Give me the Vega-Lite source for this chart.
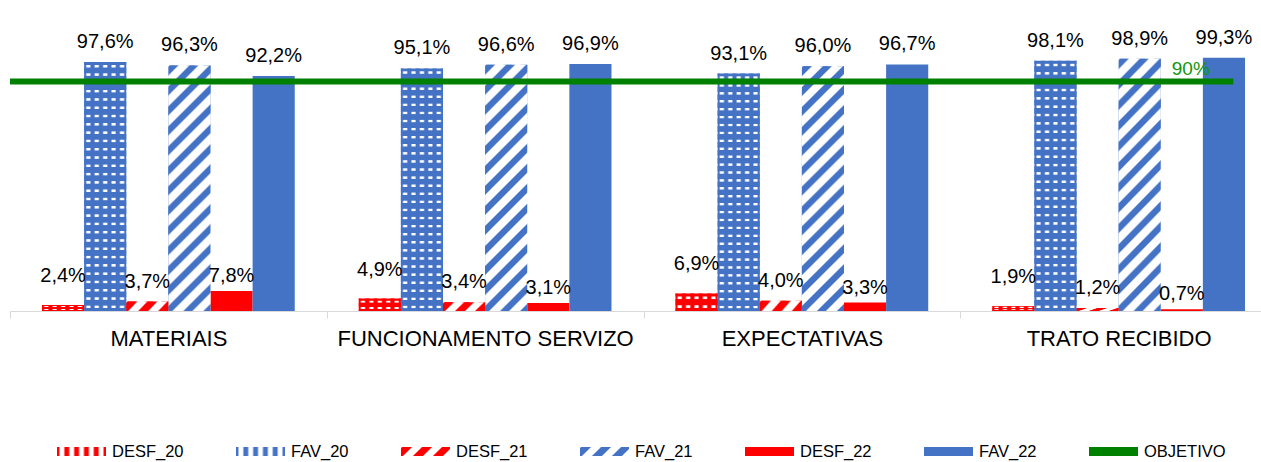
{
"$schema": "https://vega.github.io/schema/vega-lite/v6.json",
"width": 1251, "height": 255,
"autosize": "none",
"padding": {"left": 10, "top": 56, "right": 0, "bottom": 151},
"background": "white",
"config": {
  "view": {"stroke": null},
  "font": "Liberation Sans",
  "locale": {"number": {"decimal": ",", "thousands": ".", "grouping": [3], "currency": ["", " €"]}},
  "axisX": {"title": null, "labelFontSize": 22, "labelColor": "#000000", "domainColor": "#d9d9d9", "tickColor": "#d9d9d9", "tickSize": 7, "tickBand": "extent", "labelPadding": 10, "labelAngle": 0, "labelLimit": 400}
},
"data": {"values": [
{"cat":"MATERIAIS","serie":"DESF_20","v":0.024},
{"cat":"MATERIAIS","serie":"FAV_20","v":0.976},
{"cat":"MATERIAIS","serie":"DESF_21","v":0.037},
{"cat":"MATERIAIS","serie":"FAV_21","v":0.963},
{"cat":"MATERIAIS","serie":"DESF_22","v":0.078},
{"cat":"MATERIAIS","serie":"FAV_22","v":0.922},
{"cat":"FUNCIONAMENTO SERVIZO","serie":"DESF_20","v":0.049},
{"cat":"FUNCIONAMENTO SERVIZO","serie":"FAV_20","v":0.951},
{"cat":"FUNCIONAMENTO SERVIZO","serie":"DESF_21","v":0.034},
{"cat":"FUNCIONAMENTO SERVIZO","serie":"FAV_21","v":0.966},
{"cat":"FUNCIONAMENTO SERVIZO","serie":"DESF_22","v":0.031},
{"cat":"FUNCIONAMENTO SERVIZO","serie":"FAV_22","v":0.969},
{"cat":"EXPECTATIVAS","serie":"DESF_20","v":0.069},
{"cat":"EXPECTATIVAS","serie":"FAV_20","v":0.931},
{"cat":"EXPECTATIVAS","serie":"DESF_21","v":0.040},
{"cat":"EXPECTATIVAS","serie":"FAV_21","v":0.960},
{"cat":"EXPECTATIVAS","serie":"DESF_22","v":0.033},
{"cat":"EXPECTATIVAS","serie":"FAV_22","v":0.967},
{"cat":"TRATO RECIBIDO","serie":"DESF_20","v":0.019},
{"cat":"TRATO RECIBIDO","serie":"FAV_20","v":0.981},
{"cat":"TRATO RECIBIDO","serie":"DESF_21","v":0.012},
{"cat":"TRATO RECIBIDO","serie":"FAV_21","v":0.989},
{"cat":"TRATO RECIBIDO","serie":"DESF_22","v":0.007},
{"cat":"TRATO RECIBIDO","serie":"FAV_22","v":0.993}
]},
"layer": [
{
  "encoding": {
    "x": {"field": "cat", "type": "nominal", "scale": {"domain": ["MATERIAIS","FUNCIONAMENTO SERVIZO","EXPECTATIVAS","TRATO RECIBIDO"], "range": [0, 1267], "paddingInner": 0, "paddingOuter": 0}},
    "xOffset": {"field": "serie", "type": "nominal", "scale": {"domain": ["DESF_20","FAV_20","DESF_21","FAV_21","DESF_22","FAV_22"], "paddingInner": 0, "paddingOuter": 0.76}},
    "y": {"field": "v", "type": "quantitative", "scale": {"domain": [0, 1]}, "axis": null}
  },
  "layer": [
    {
      "mark": {"type": "bar"},
      "encoding": {
        "color": {"field": "serie", "type": "nominal",
          "scale": {
            "domain": ["DESF_20","FAV_20","DESF_21","FAV_21","DESF_22","FAV_22","OBJETIVO"],
            "range": [
              {"expr": "{gradient:'linear',x1:0,y1:0,x2:1,y2:0,stops:[{offset:0.03,color:'#ff0000'},{offset:0.07,color:'#ffffff'},{offset:0.13,color:'#ffffff'},{offset:0.17,color:'#ff0000'},{offset:0.23,color:'#ff0000'},{offset:0.27,color:'#ffffff'},{offset:0.33,color:'#ffffff'},{offset:0.37,color:'#ff0000'},{offset:0.43,color:'#ff0000'},{offset:0.47,color:'#ffffff'},{offset:0.53,color:'#ffffff'},{offset:0.57,color:'#ff0000'},{offset:0.63,color:'#ff0000'},{offset:0.67,color:'#ffffff'},{offset:0.73,color:'#ffffff'},{offset:0.77,color:'#ff0000'},{offset:0.83,color:'#ff0000'},{offset:0.87,color:'#ffffff'},{offset:0.93,color:'#ffffff'},{offset:0.97,color:'#ff0000'}]}"},
              {"expr": "{gradient:'linear',x1:0,y1:0,x2:1,y2:0,stops:[{offset:0.03,color:'#4472c4'},{offset:0.07,color:'#ffffff'},{offset:0.13,color:'#ffffff'},{offset:0.17,color:'#4472c4'},{offset:0.23,color:'#4472c4'},{offset:0.27,color:'#ffffff'},{offset:0.33,color:'#ffffff'},{offset:0.37,color:'#4472c4'},{offset:0.43,color:'#4472c4'},{offset:0.47,color:'#ffffff'},{offset:0.53,color:'#ffffff'},{offset:0.57,color:'#4472c4'},{offset:0.63,color:'#4472c4'},{offset:0.67,color:'#ffffff'},{offset:0.73,color:'#ffffff'},{offset:0.77,color:'#4472c4'},{offset:0.83,color:'#4472c4'},{offset:0.87,color:'#ffffff'},{offset:0.93,color:'#ffffff'},{offset:0.97,color:'#4472c4'}]}"},
              {"expr": "{gradient:'linear',x1:0,y1:0,x2:1.1845,y2:0.2176,stops:[{offset:0,color:'#ffffff'},{offset:0.0333,color:'#ff0000'},{offset:0.1667,color:'#ff0000'},{offset:0.2,color:'#ffffff'},{offset:0.3333,color:'#ffffff'},{offset:0.3667,color:'#ff0000'},{offset:0.5,color:'#ff0000'},{offset:0.5333,color:'#ffffff'},{offset:0.6667,color:'#ffffff'},{offset:0.7,color:'#ff0000'},{offset:0.8333,color:'#ff0000'},{offset:0.8667,color:'#ffffff'}]}"},
              {"expr": "{gradient:'linear',x1:0,y1:0,x2:1.1845,y2:0.2176,stops:[{offset:0,color:'#ffffff'},{offset:0.0333,color:'#4472c4'},{offset:0.1667,color:'#4472c4'},{offset:0.2,color:'#ffffff'},{offset:0.3333,color:'#ffffff'},{offset:0.3667,color:'#4472c4'},{offset:0.5,color:'#4472c4'},{offset:0.5333,color:'#ffffff'},{offset:0.6667,color:'#ffffff'},{offset:0.7,color:'#4472c4'},{offset:0.8333,color:'#4472c4'},{offset:0.8667,color:'#ffffff'}]}"},
              "#ff0000", "#4472c4", "#008000"
            ]
          },
          "legend": {"orient": "none", "legendX": 47, "legendY": 371, "direction": "horizontal", "columns": 7, "title": null,
            "symbolType": "M-1,-0.18L1,-0.18L1,0.18L-1,0.18Z", "symbolSize": 2401, "symbolStrokeWidth": 0, "symbolOpacity": 1,
            "labelFontSize": 16.5, "labelOffset": 6, "columnPadding": 52, "padding": 0, "labelColor": "#000000"}
        }
      }
    },
    {
      "transform": [{"filter": "datum.serie == 'FAV_21'"}],
      "mark": {"type": "bar", "fill": {"gradient":"linear","x1":0,"y1":0,"x2":0.2028,"y2":1.1848,"stops":[
        {"offset":0,"color":"#ffffff"},{"offset":0.0067,"color":"#4472c4"},{"offset":0.03,"color":"#4472c4"},{"offset":0.0367,"color":"#ffffff"},
        {"offset":0.0667,"color":"#ffffff"},{"offset":0.0733,"color":"#4472c4"},{"offset":0.0967,"color":"#4472c4"},{"offset":0.1033,"color":"#ffffff"},
        {"offset":0.1333,"color":"#ffffff"},{"offset":0.14,"color":"#4472c4"},{"offset":0.1633,"color":"#4472c4"},{"offset":0.17,"color":"#ffffff"},
        {"offset":0.2,"color":"#ffffff"},{"offset":0.2067,"color":"#4472c4"},{"offset":0.23,"color":"#4472c4"},{"offset":0.2367,"color":"#ffffff"},
        {"offset":0.2667,"color":"#ffffff"},{"offset":0.2733,"color":"#4472c4"},{"offset":0.2967,"color":"#4472c4"},{"offset":0.3033,"color":"#ffffff"},
        {"offset":0.3333,"color":"#ffffff"},{"offset":0.34,"color":"#4472c4"},{"offset":0.3633,"color":"#4472c4"},{"offset":0.37,"color":"#ffffff"},
        {"offset":0.4,"color":"#ffffff"},{"offset":0.4067,"color":"#4472c4"},{"offset":0.43,"color":"#4472c4"},{"offset":0.4367,"color":"#ffffff"},
        {"offset":0.4667,"color":"#ffffff"},{"offset":0.4733,"color":"#4472c4"},{"offset":0.4967,"color":"#4472c4"},{"offset":0.5033,"color":"#ffffff"},
        {"offset":0.5333,"color":"#ffffff"},{"offset":0.54,"color":"#4472c4"},{"offset":0.5633,"color":"#4472c4"},{"offset":0.57,"color":"#ffffff"},
        {"offset":0.6,"color":"#ffffff"},{"offset":0.6067,"color":"#4472c4"},{"offset":0.63,"color":"#4472c4"},{"offset":0.6367,"color":"#ffffff"},
        {"offset":0.6667,"color":"#ffffff"},{"offset":0.6733,"color":"#4472c4"},{"offset":0.6967,"color":"#4472c4"},{"offset":0.7033,"color":"#ffffff"},
        {"offset":0.7333,"color":"#ffffff"},{"offset":0.74,"color":"#4472c4"},{"offset":0.7633,"color":"#4472c4"},{"offset":0.77,"color":"#ffffff"},
        {"offset":0.8,"color":"#ffffff"},{"offset":0.8067,"color":"#4472c4"},{"offset":0.83,"color":"#4472c4"},{"offset":0.8367,"color":"#ffffff"},
        {"offset":0.8667,"color":"#ffffff"},{"offset":0.8733,"color":"#4472c4"},{"offset":0.8967,"color":"#4472c4"},{"offset":0.9033,"color":"#ffffff"},
        {"offset":0.9333,"color":"#ffffff"},{"offset":0.94,"color":"#4472c4"},{"offset":0.9633,"color":"#4472c4"},{"offset":0.97,"color":"#ffffff"}]}}
    },
    {
      "transform": [{"filter": "datum.serie == 'DESF_21'"}],
      "mark": {"type": "bar", "fill": {"gradient":"linear","x1":0,"y1":0,"x2":1.363,"y2":0.2914,"stops":[
        {"offset":0,"color":"#ffffff"},{"offset":0.0333,"color":"#ff0000"},{"offset":0.1667,"color":"#ff0000"},{"offset":0.2,"color":"#ffffff"},
        {"offset":0.3333,"color":"#ffffff"},{"offset":0.3667,"color":"#ff0000"},{"offset":0.5,"color":"#ff0000"},{"offset":0.5333,"color":"#ffffff"},
        {"offset":0.6667,"color":"#ffffff"},{"offset":0.7,"color":"#ff0000"},{"offset":0.8333,"color":"#ff0000"},{"offset":0.8667,"color":"#ffffff"}]}}
    },
    {
      "transform": [{"filter": "datum.serie == 'FAV_20'"}],
      "mark": {"type": "bar", "fill": {"gradient":"linear","x1":0,"y1":0,"x2":0,"y2":1,"stops":[
        {"offset":0.01,"color":"#4472c4"},{"offset":0.0133,"color":"rgba(68,114,196,0)"},{"offset":0.02,"color":"rgba(68,114,196,0)"},{"offset":0.0233,"color":"#4472c4"},
        {"offset":0.0433,"color":"#4472c4"},{"offset":0.0467,"color":"rgba(68,114,196,0)"},{"offset":0.0533,"color":"rgba(68,114,196,0)"},{"offset":0.0567,"color":"#4472c4"},
        {"offset":0.0767,"color":"#4472c4"},{"offset":0.08,"color":"rgba(68,114,196,0)"},{"offset":0.0867,"color":"rgba(68,114,196,0)"},{"offset":0.09,"color":"#4472c4"},
        {"offset":0.11,"color":"#4472c4"},{"offset":0.1133,"color":"rgba(68,114,196,0)"},{"offset":0.12,"color":"rgba(68,114,196,0)"},{"offset":0.1233,"color":"#4472c4"},
        {"offset":0.1433,"color":"#4472c4"},{"offset":0.1467,"color":"rgba(68,114,196,0)"},{"offset":0.1533,"color":"rgba(68,114,196,0)"},{"offset":0.1567,"color":"#4472c4"},
        {"offset":0.1767,"color":"#4472c4"},{"offset":0.18,"color":"rgba(68,114,196,0)"},{"offset":0.1867,"color":"rgba(68,114,196,0)"},{"offset":0.19,"color":"#4472c4"},
        {"offset":0.21,"color":"#4472c4"},{"offset":0.2133,"color":"rgba(68,114,196,0)"},{"offset":0.22,"color":"rgba(68,114,196,0)"},{"offset":0.2233,"color":"#4472c4"},
        {"offset":0.2433,"color":"#4472c4"},{"offset":0.2467,"color":"rgba(68,114,196,0)"},{"offset":0.2533,"color":"rgba(68,114,196,0)"},{"offset":0.2567,"color":"#4472c4"},
        {"offset":0.2767,"color":"#4472c4"},{"offset":0.28,"color":"rgba(68,114,196,0)"},{"offset":0.2867,"color":"rgba(68,114,196,0)"},{"offset":0.29,"color":"#4472c4"},
        {"offset":0.31,"color":"#4472c4"},{"offset":0.3133,"color":"rgba(68,114,196,0)"},{"offset":0.32,"color":"rgba(68,114,196,0)"},{"offset":0.3233,"color":"#4472c4"},
        {"offset":0.3433,"color":"#4472c4"},{"offset":0.3467,"color":"rgba(68,114,196,0)"},{"offset":0.3533,"color":"rgba(68,114,196,0)"},{"offset":0.3567,"color":"#4472c4"},
        {"offset":0.3767,"color":"#4472c4"},{"offset":0.38,"color":"rgba(68,114,196,0)"},{"offset":0.3867,"color":"rgba(68,114,196,0)"},{"offset":0.39,"color":"#4472c4"},
        {"offset":0.41,"color":"#4472c4"},{"offset":0.4133,"color":"rgba(68,114,196,0)"},{"offset":0.42,"color":"rgba(68,114,196,0)"},{"offset":0.4233,"color":"#4472c4"},
        {"offset":0.4433,"color":"#4472c4"},{"offset":0.4467,"color":"rgba(68,114,196,0)"},{"offset":0.4533,"color":"rgba(68,114,196,0)"},{"offset":0.4567,"color":"#4472c4"},
        {"offset":0.4767,"color":"#4472c4"},{"offset":0.48,"color":"rgba(68,114,196,0)"},{"offset":0.4867,"color":"rgba(68,114,196,0)"},{"offset":0.49,"color":"#4472c4"},
        {"offset":0.51,"color":"#4472c4"},{"offset":0.5133,"color":"rgba(68,114,196,0)"},{"offset":0.52,"color":"rgba(68,114,196,0)"},{"offset":0.5233,"color":"#4472c4"},
        {"offset":0.5433,"color":"#4472c4"},{"offset":0.5467,"color":"rgba(68,114,196,0)"},{"offset":0.5533,"color":"rgba(68,114,196,0)"},{"offset":0.5567,"color":"#4472c4"},
        {"offset":0.5767,"color":"#4472c4"},{"offset":0.58,"color":"rgba(68,114,196,0)"},{"offset":0.5867,"color":"rgba(68,114,196,0)"},{"offset":0.59,"color":"#4472c4"},
        {"offset":0.61,"color":"#4472c4"},{"offset":0.6133,"color":"rgba(68,114,196,0)"},{"offset":0.62,"color":"rgba(68,114,196,0)"},{"offset":0.6233,"color":"#4472c4"},
        {"offset":0.6433,"color":"#4472c4"},{"offset":0.6467,"color":"rgba(68,114,196,0)"},{"offset":0.6533,"color":"rgba(68,114,196,0)"},{"offset":0.6567,"color":"#4472c4"},
        {"offset":0.6767,"color":"#4472c4"},{"offset":0.68,"color":"rgba(68,114,196,0)"},{"offset":0.6867,"color":"rgba(68,114,196,0)"},{"offset":0.69,"color":"#4472c4"},
        {"offset":0.71,"color":"#4472c4"},{"offset":0.7133,"color":"rgba(68,114,196,0)"},{"offset":0.72,"color":"rgba(68,114,196,0)"},{"offset":0.7233,"color":"#4472c4"},
        {"offset":0.7433,"color":"#4472c4"},{"offset":0.7467,"color":"rgba(68,114,196,0)"},{"offset":0.7533,"color":"rgba(68,114,196,0)"},{"offset":0.7567,"color":"#4472c4"},
        {"offset":0.7767,"color":"#4472c4"},{"offset":0.78,"color":"rgba(68,114,196,0)"},{"offset":0.7867,"color":"rgba(68,114,196,0)"},{"offset":0.79,"color":"#4472c4"},
        {"offset":0.81,"color":"#4472c4"},{"offset":0.8133,"color":"rgba(68,114,196,0)"},{"offset":0.82,"color":"rgba(68,114,196,0)"},{"offset":0.8233,"color":"#4472c4"},
        {"offset":0.8433,"color":"#4472c4"},{"offset":0.8467,"color":"rgba(68,114,196,0)"},{"offset":0.8533,"color":"rgba(68,114,196,0)"},{"offset":0.8567,"color":"#4472c4"},
        {"offset":0.8767,"color":"#4472c4"},{"offset":0.88,"color":"rgba(68,114,196,0)"},{"offset":0.8867,"color":"rgba(68,114,196,0)"},{"offset":0.89,"color":"#4472c4"},
        {"offset":0.91,"color":"#4472c4"},{"offset":0.9133,"color":"rgba(68,114,196,0)"},{"offset":0.92,"color":"rgba(68,114,196,0)"},{"offset":0.9233,"color":"#4472c4"},
        {"offset":0.9433,"color":"#4472c4"},{"offset":0.9467,"color":"rgba(68,114,196,0)"},{"offset":0.9533,"color":"rgba(68,114,196,0)"},{"offset":0.9567,"color":"#4472c4"},
        {"offset":0.9767,"color":"#4472c4"},{"offset":0.98,"color":"rgba(68,114,196,0)"},{"offset":0.9867,"color":"rgba(68,114,196,0)"},{"offset":0.99,"color":"#4472c4"}]}}
    },
    {
      "transform": [{"filter": "datum.serie == 'DESF_20'"}],
      "mark": {"type": "bar", "fill": {"gradient":"linear","x1":0,"y1":0,"x2":0,"y2":1,"stops":[
        {"offset":0.15,"color":"#ff0000"},{"offset":0.2,"color":"rgba(255,0,0,0)"},{"offset":0.3,"color":"rgba(255,0,0,0)"},{"offset":0.35,"color":"#ff0000"},
        {"offset":0.65,"color":"#ff0000"},{"offset":0.7,"color":"rgba(255,0,0,0)"},{"offset":0.8,"color":"rgba(255,0,0,0)"},{"offset":0.85,"color":"#ff0000"}]}}
    },
    {
      "transform": [{"filter": "datum.serie != 'DESF_20' && datum.serie != 'DESF_22'"}],
      "mark": {"type": "text", "baseline": "middle", "dy": -20, "fontSize": 20, "color": "#000000"},
      "encoding": {"text": {"field": "v", "type": "quantitative", "format": ".1%"}}
    },
    {
      "transform": [{"filter": "datum.serie == 'DESF_20'"}],
      "mark": {"type": "text", "baseline": "middle", "dy": -29, "fontSize": 20, "color": "#000000"},
      "encoding": {"text": {"field": "v", "type": "quantitative", "format": ".1%"}}
    },
    {
      "transform": [{"filter": "datum.serie == 'DESF_22'"}],
      "mark": {"type": "text", "baseline": "middle", "dy": -15, "fontSize": 20, "color": "#000000"},
      "encoding": {"text": {"field": "v", "type": "quantitative", "format": ".1%"}}
    }
  ]
},
{
  "data": {"values": [{"objetivo": 0.9}]},
  "mark": {"type": "rule", "color": "#008000", "strokeWidth": 6},
  "encoding": {
    "x": {"datum": "MATERIAIS", "type": "nominal", "bandPosition": 0},
    "x2": {"datum": "TRATO RECIBIDO", "bandPosition": 0.862},
    "y": {"field": "objetivo", "type": "quantitative"}
  }
},
{
  "data": {"values": [{"objetivo": 0.9}]},
  "mark": {"type": "text", "align": "center", "baseline": "bottom", "dx": 9, "dy": -3, "fontSize": 19, "color": "#119611"},
  "encoding": {
    "x": {"datum": "TRATO RECIBIDO", "type": "nominal"},
    "xOffset": {"datum": "DESF_22", "type": "nominal"},
    "y": {"field": "objetivo", "type": "quantitative"},
    "text": {"field": "objetivo", "type": "quantitative", "format": ".0%"}
  }
}
]
}
